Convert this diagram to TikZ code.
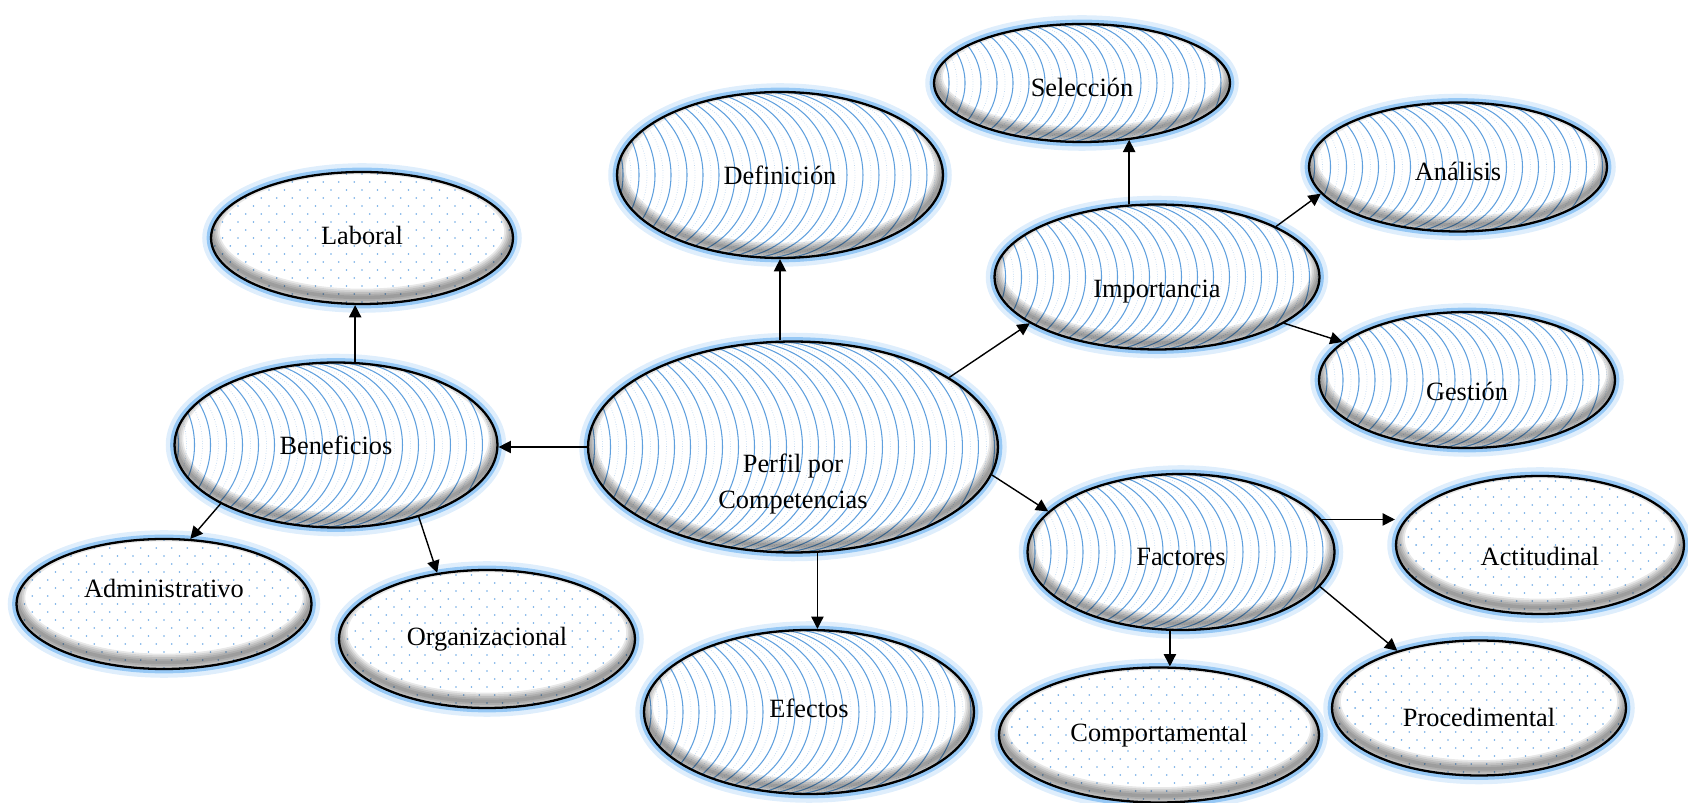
\documentclass[tikz,border=0pt]{standalone}
\usepackage{fontspec}
\setmainfont{Liberation Serif}
\usetikzlibrary{shapes.geometric,arrows.meta,calc}
\definecolor{arcblue}{RGB}{96,160,222}
\definecolor{dotblue}{RGB}{110,170,230}
\definecolor{glowblue}{RGB}{150,200,245}
% dark inner rim along the lower edge of every bubble
\newcommand{\bubblerim}{%
  \foreach \w in {2,4,...,10}
    \draw[black, opacity=0.09, line width=\w pt] let \p1=($(path picture bounding box.north east)-(path picture bounding box.center)$) in
      ([yshift=0.13cm]path picture bounding box.center) ellipse[x radius=\x1, y radius=\y1];}

\begin{document}
\begin{tikzpicture}[
    x=0.02cm, y=-0.02cm,
    every node/.style={font=\fontsize{15}{21}\selectfont},
    bubble/.style={ellipse, draw=black, line width=1.3pt, fill=white, inner sep=0pt, align=center,
        preaction={draw=glowblue, line width=10pt, opacity=0.3},
        preaction={draw=glowblue, line width=5pt}},
    arcbubble/.style={bubble, path picture={
        \foreach \k in {-22,...,13} {
          \draw[arcblue!40, line width=0.4pt, densely dotted] let \p1=($(path picture bounding box.north)-(path picture bounding box.south)$) in
            ([xshift=\k*0.32cm+0.16cm]path picture bounding box.north) arc[start angle=90, end angle=-90, x radius=0.5*\y1, y radius=0.5*\y1];
          \draw[arcblue, line width=0.6pt] let \p1=($(path picture bounding box.north)-(path picture bounding box.south)$) in
            ([xshift=\k*0.32cm]path picture bounding box.north) arc[start angle=90, end angle=-90, x radius=0.5*\y1, y radius=0.5*\y1];
        }
        \bubblerim
    }},
    dotbubble/.style={bubble, path picture={
        \foreach \r in {-9,...,9} \foreach \c in {-10,...,10}
          \fill[dotblue] ([xshift={\c*0.31cm+mod(abs(\r),2)*0.155cm}, yshift=\r*0.16cm]path picture bounding box.center) circle[radius=0.55pt];
        \bubblerim
    }},
    arrow/.style={-{Triangle[length=7pt, width=7pt]}, line width=0.8pt}
]
\useasboundingbox (0,0) rectangle (1688,803);

% central node
\node[arcbubble, minimum width=8.2cm, minimum height=4.22cm,
      label={[align=center, yshift=-0.74cm]center:Perfil por\\Competencias}] (perfil) at (793,447) {};

% upper branch
\node[arcbubble, minimum width=6.52cm, minimum height=3.32cm] (definicion) at (780,175) {Definición};
\node[arcbubble, minimum width=6.5cm, minimum height=2.9cm,
      label={[yshift=-0.3cm]center:Importancia}] (importancia) at (1157,277) {};
\node[arcbubble, minimum width=5.92cm, minimum height=2.36cm,
      label={[yshift=-0.08cm]center:Selección}] (seleccion) at (1082,83) {};
\node[arcbubble, minimum width=5.96cm, minimum height=2.58cm,
      label={[yshift=-0.08cm]center:Análisis}] (analisis) at (1458,167) {};
\node[arcbubble, minimum width=5.92cm, minimum height=2.72cm,
      label={[yshift=-0.22cm]center:Gestión}] (gestion) at (1467,380) {};

% left branch
\node[arcbubble, minimum width=6.46cm, minimum height=3.3cm] (beneficios) at (336,445) {Beneficios};
\node[dotbubble, minimum width=6.04cm, minimum height=2.64cm,
      label={[yshift=0.06cm]center:Laboral}] (laboral) at (362,238) {};
\node[dotbubble, minimum width=5.9cm, minimum height=2.6cm,
      label={[yshift=0.32cm]center:Administrativo}] (administrativo) at (164,604) {};
\node[dotbubble, minimum width=5.92cm, minimum height=2.76cm] (organizacional) at (487,639) {Organizacional};

% lower branch
\node[arcbubble, minimum width=6.6cm, minimum height=3.28cm,
      label={[yshift=0.08cm]center:Efectos}] (efectos) at (809,712) {};
\node[arcbubble, minimum width=6.14cm, minimum height=3.12cm,
      label={[yshift=-0.1cm]center:Factores}] (factores) at (1181,552) {};
\node[dotbubble, minimum width=5.76cm, minimum height=2.76cm,
      label={[yshift=-0.22cm]center:Actitudinal}] (actitudinal) at (1540,545) {};
\node[dotbubble, minimum width=6.4cm, minimum height=2.7cm] (comportamental) at (1159,735) {Comportamental};
\node[dotbubble, minimum width=5.88cm, minimum height=2.7cm,
      label={[yshift=-0.18cm]center:Procedimental}] (procedimental) at (1479,708) {};

% arrows from the centre
\draw[arrow] (definicion.south |- perfil.north) -- (definicion.south);
\draw[arrow] (perfil.24) -- (importancia.200);
\draw[arrow] (perfil.west) -- (perfil.west -| beneficios.east);
\draw[arrow] (perfil.-8) -- (factores.163);
\draw[arrow] (perfil.-77) -- (perfil.-77 |- efectos.north);

% arrows from Importancia
\draw[arrow] (importancia.111) -- (importancia.111 |- seleccion.-49);
\draw[arrow] (importancia.23) -- (analisis.191);
\draw[arrow] (importancia.-20) -- (gestion.163);

% arrows from Beneficios
\draw[arrow] (beneficios.77) -- (beneficios.77 |- laboral.south);
\draw[arrow] (beneficios.207) -- (administrativo.68);
\draw[arrow] (beneficios.-41) -- (organizacional.127);

% arrows from Factores
\draw[arrow] (factores.13) -- (factores.13 -| actitudinal.west);
\draw[arrow] (factores.-98) -- (factores.-98 |- comportamental.north);
\draw[arrow] (factores.-14) -- (procedimental.145);

\end{tikzpicture}
\end{document}
